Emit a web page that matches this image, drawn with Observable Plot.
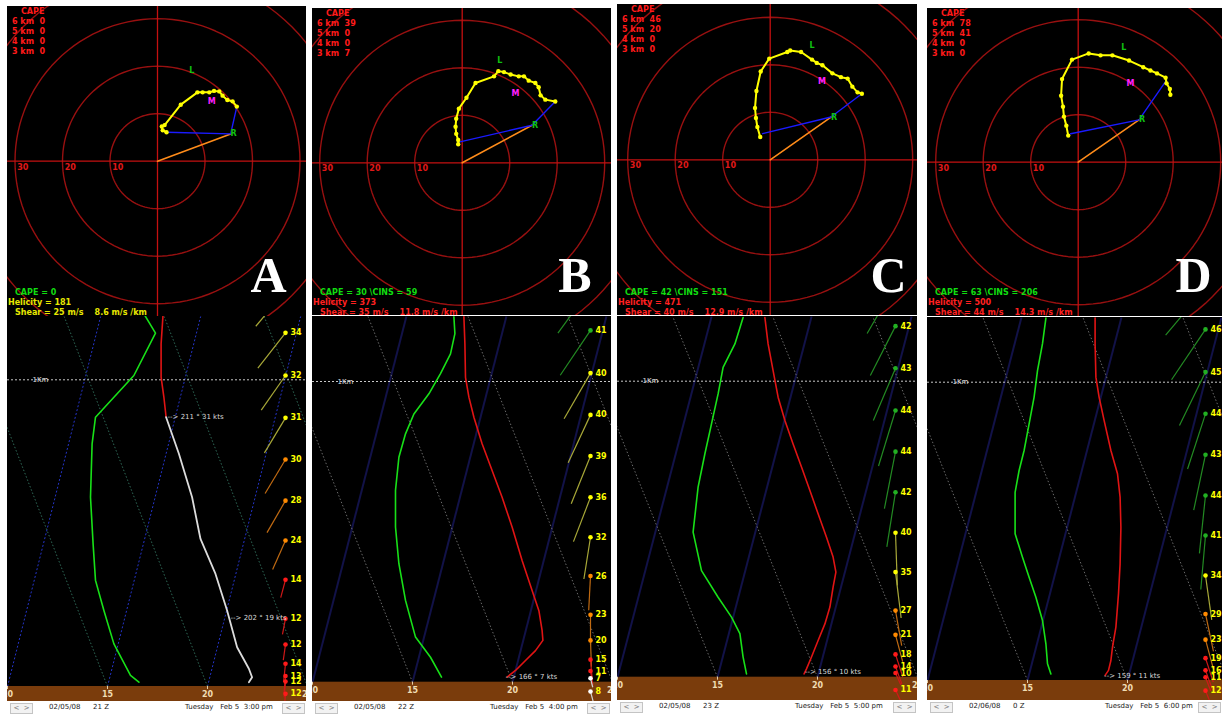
<!DOCTYPE html>
<html><head><meta charset="utf-8">
<script src="https://cdn.jsdelivr.net/npm/d3@7"></script>
<script src="https://cdn.jsdelivr.net/npm/@observablehq/plot@0.6"></script>
<style>
html,body{margin:0;padding:0;background:#fff;}
#root{position:relative;width:1226px;height:715px;overflow:hidden;background:#fff;}
.box{position:absolute;overflow:hidden;background:#000;}
.box svg{display:block;max-width:none;}
.status{position:absolute;background:#fff;font-family:"DejaVu Sans",sans-serif;font-size:7px;color:#222;}
.status span{position:absolute;top:2px;white-space:pre;line-height:9px;}
.status .btn{top:2px;height:9px;width:21px;border:1px solid #c4c4c4;background:#f2f2f2;color:#777;text-align:center;font-size:7px;line-height:9px;}
</style></head>
<body><div id="root"></div>
<script>
// ---------------- DATA ----------------
const panelLetters = ["A", "B", "C", "D"];
const capeLevels = ["6 km", "5 km", "4 km", "3 km"];
const capeByLevel = [[0, 0, 0, 0], [39, 0, 0, 7], [46, 20, 0, 0], [78, 41, 0, 0]];
const surfaceCape = [0, 30, 42, 63];
const cins = [null, 59, 151, 206];
const helicity = [181, 373, 471, 500];
const shearMs = [25, 35, 40, 44];
const shearRate = ["8.6", "11.8", "12.9", "14.3"];
const dates = ["02/05/08", "02/05/08", "02/05/08", "02/06/08"];
const zulu = ["21 Z", "22 Z", "23 Z", "0 Z"];
const localTimes = ["Tuesday   Feb 5  3:00 pm", "Tuesday   Feb 5  4:00 pm", "Tuesday   Feb 5  5:00 pm", "Tuesday   Feb 5  6:00 pm"];

// hodograph wind (u, v) in m/s, surface first
const hodoA = [[1.9,6.1],[1.1,6.5],[0.9,7.3],[1.5,7.6],[4.9,11.9],[8.4,14.5],[9.5,14.5],[10.9,14.5],[11.9,14.8],[13.0,14.7],[13.7,13.8],[14.7,12.9],[15.8,12.6],[16.7,11.5]];
const hodoB = [[-0.84,3.9],[-0.84,4.8],[-1.26,6.1],[-1.4,7.6],[-1.26,9.3],[-0.7,11.4],[0.9,13.7],[2.8,16.8],[6.7,18.2],[7.6,19.3],[8.8,19.1],[10.2,18.6],[11.9,18.2],[13.0,18.2],[14.0,17.3],[15.4,16.8],[16.1,15.9],[16.5,14.2],[17.5,13.3],[19.6,12.9]];
const hodoC = [[-2.1,4.8],[-2.7,6.9],[-3.0,8.8],[-3.2,10.9],[-2.9,14.5],[-2.0,18.6],[-0.2,21.3],[3.6,22.7],[4.2,23.0],[6.5,22.7],[8.8,21.1],[9.8,20.4],[11.0,19.9],[13.1,18.2],[14.9,17.4],[16.3,17.1],[17.3,15.4],[18.4,14.2],[19.3,13.9]];
const hodoD = [[-2.1,5.6],[-2.5,7.7],[-3.0,9.6],[-3.2,11.7],[-3.6,14.0],[-3.4,17.5],[-1.3,21.6],[2.2,22.9],[4.7,22.5],[7.2,22.5],[10.7,21.4],[13.7,20.0],[15.2,19.3],[16.6,18.7],[18.4,17.8],[18.6,16.6],[19.3,15.4],[19.4,14.2]];
const stormRight = [[15.4,5.75],[14.7,7.9],[12.8,9.0],[12.8,8.9]];
const stormLeft = [[7.2,19.1],[7.9,21.5],[8.8,24.1],[9.6,24.1]];
const meanWind = [[11.4,12.6],[11.2,14.7],[10.9,16.5],[11.0,16.6]];
const blueTop = [[16.7,11.5],[19.6,12.9],[19.3,13.9],[18.6,17.3]];
const blueLow = [[1.9,6.1],[-0.7,4.35],[-1.6,5.5],[-1.6,6.0]];
const ringSpeeds = [10, 20, 30, 40];
const ringLabels = [30, 20, 10];

// soundings: [x-axis °C, height m]
const tempRedA = [[17.78,1215],[17.68,1117],[17.68,1009],[17.82,943],[17.93,878]];
const tempWhiteA = [[17.93,878],[18.57,759],[19.23,617],[19.65,481],[20.40,367],[20.98,248],[21.48,128],[22.07,58],[22.23,30],[22.07,14]];
const dewA = [[16.82,1215],[17.40,1152],[16.32,1014],[15.32,943],[14.40,878],[14.23,791],[14.15,617],[14.28,465],[14.40,346],[14.82,248],[15.32,139],[16.15,36],[16.57,14]];
const tempB = [[17.57,1215],[17.62,1125],[17.65,1014],[17.82,948],[18.07,881],[18.48,793],[18.98,704],[19.48,615],[19.98,516],[20.48,405],[20.98,305],[21.32,238],[21.48,172],[21.52,139],[21.15,105],[20.65,72],[20.15,39],[19.73,17]];
const dewB = [[17.07,1215],[17.12,1159],[16.90,1092],[16.40,1026],[15.82,959],[15.07,892],[14.65,826],[14.32,748],[14.15,638],[14.15,516],[14.32,394],[14.65,272],[15.15,150],[15.90,83],[16.45,17]];
const tempC = [[17.37,1215],[17.53,1126],[17.78,1036],[18.03,946],[18.37,867],[18.78,788],[19.20,710],[19.62,631],[20.03,552],[20.45,473],[20.78,406],[20.92,355],[20.78,304],[20.62,237],[20.37,180],[20.03,124],[19.70,68],[19.45,28],[19.33,11]];
const dewC = [[16.28,1215],[15.87,1126],[15.28,1047],[15.03,957],[14.70,856],[14.37,755],[14.03,642],[13.78,490],[14.20,360],[15.03,270],[15.70,203],[16.12,147],[16.28,68],[16.45,11]];
const tempD = [[18.38,1215],[18.38,1129],[18.42,1017],[18.58,950],[18.83,872],[19.17,771],[19.50,693],[19.63,615],[19.67,514],[19.63,391],[19.55,291],[19.42,179],[19.25,112],[19.17,67],[19.05,34],[18.88,17]];
const dewD = [[15.92,1215],[15.75,1129],[15.50,1039],[15.33,950],[15.08,860],[14.83,771],[14.58,704],[14.38,631],[14.38,492],[14.75,413],[15.08,346],[15.42,279],[15.75,201],[15.92,123],[16.0,56],[16.17,22]];

// winds: [height m, speed kt, direction deg]
const windA = [[1290,35,220],[1153,34,218],[1014,32,215],[876,31,211],[740,30,211],[606,28,210],[476,24,204],[348,14,195],[221,12,191],[137,12,188],[74,14,186],[34,13,185],[16,12,185],[-24,12,185]];
const windB = [[1310,42,216],[1170,41,214],[1028,40,210],[889,40,205],[752,39,202],[615,36,201],[482,32,189],[353,26,183],[224,23,180],[139,20,178],[75,15,175],[37,11,170],[13,7,166],[-31,8,165]];
const windC = [[1327,43,210],[1186,42,207],[1044,43,203],[901,44,197],[762,44,191],[625,42,189],[488,40,178],[355,35,173],[225,27,170],[143,21,165],[77,18,162],[36,14,160],[14,10,156],[-43,11,155]];
const windD = [[1317,47,220],[1177,46,214],[1034,45,206],[894,44,198],[757,43,192],[620,44,186],[486,41,185],[352,34,172],[223,29,168],[137,23,165],[75,19,162],[34,16,160],[11,11,159],[-34,12,158]];
const windNotes = [
  [[18.0,878,"--> 211 ° 31 kts"],[21.15,224,"--> 202 ° 19 kts"]],
  [[19.65,17,"--> 166 ° 7 kts"]],
  [[19.37,17,"--> 156 ° 10 kts"]],
  [[18.83,15,"--> 159 ° 11 kts"]]
];
const isotherms = [5, 10, 15, 20, 25];
const adiabats = [15, 20, 25, 30, 35];
const bandTicks = [10, 15, 20, 25];

// ---------------- LAYOUT ----------------
const panelLeft = [7, 312, 617, 927];
const panelWidth = [299, 299, 300, 295];
const hodoTop = [6, 8, 4, 8];
const hodoBottom = [316, 315, 315, 316];
const hodoCenter = [[157,160.7],[461.7,162.3],[769.7,159.3],[1077.7,161.7]];
const letterRight = [286, 591, 906, 1211];
const letterMid = 275;
const pxPerMs = 4.75;
const soundTop = [316, 316, 316, 317];
const soundBottom = [701, 701, 700, 700];
const groundY = [686, 681.7, 676.7, 680];
const kmY = [379.3, 381, 380.7, 381.7];
const pxPerDeg = 20, tMin = 10;
const skewPerKm = 3.86, adiabatPerKm = 5.94;
const windX = 23.9, pxPerKt = 1.32;
const FONT = "DejaVu Sans";

function dotColor(s){ return s > 40 ? "#22b022" : s > 30 ? "#ffff00" : s >= 20 ? "#ff8a00" : s >= 10 ? "#ff1a1a" : "#ffffff"; }
function stickColor(s){ return s > 40 ? "#238a23" : s > 30 ? "#a8a838" : s >= 20 ? "#c06a12" : s >= 10 ? "#d01818" : "#d0d0d0"; }

function ringPoints(r){
  const pts = [];
  for (let a = 0; a <= 360; a += 3) { const t = a * Math.PI / 180; pts.push({r, u: r * Math.cos(t), v: r * Math.sin(t)}); }
  return pts;
}

function hodograph(i, path) {
  const W = panelWidth[i], H = hodoBottom[i] - hodoTop[i];
  const cx = hodoCenter[i][0] - panelLeft[i], cy = hodoCenter[i][1] - hodoTop[i];
  const s = pxPerMs;
  const txt = (str, x, yLocal, fill, extra = {}) => Plot.text([str], {frameAnchor: "top-left", dx: x, dy: yLocal, text: d => d,
    fill, fontSize: 8, fontWeight: "bold", fontFamily: FONT, textAnchor: "start", lineAnchor: "middle", ...extra});
  const R = stormRight[i], L = stormLeft[i], M = meanWind[i];
  const lowerColor = i === 0 ? "#e8e800" : "#ff2020";
  const capeLine = "CAPE = " + surfaceCape[i] + (cins[i] != null ? " \\CINS = " + cins[i] : "");
  const marks = [
    Plot.line(ringSpeeds.flatMap(ringPoints), {x: "u", y: "v", z: "r", stroke: "#981010", strokeWidth: 1.4}),
    Plot.ruleX([0], {stroke: "#c41010", strokeWidth: 1.3}),
    Plot.ruleY([0], {stroke: "#c41010", strokeWidth: 1.3}),
    Plot.text(ringLabels, {x: d => -d + 0.45, y: () => 0, dy: 6, text: d => String(d), fill: "#e01818", fontSize: 8, fontWeight: "bold", fontFamily: FONT, textAnchor: "start"}),
    Plot.line([[0,0], R], {x: d => d[0], y: d => d[1], stroke: "#ff8c1a", strokeWidth: 1.6}),
    Plot.line([blueTop[i], R, blueLow[i]], {x: d => d[0], y: d => d[1], stroke: "#1a1aff", strokeWidth: 1.4}),
    Plot.line(path, {x: d => d[0], y: d => d[1], stroke: "#ffff00", strokeWidth: 2}),
    Plot.dot(path, {x: d => d[0], y: d => d[1], r: 2.2, fill: "#ffff00"}),
    Plot.text([L], {x: d => d[0], y: d => d[1], text: () => "L", fill: "#10c010", fontSize: 8, fontWeight: "bold", fontFamily: FONT}),
    Plot.text([M], {x: d => d[0], y: d => d[1], text: () => "M", fill: "#ff20ff", fontSize: 8, fontWeight: "bold", fontFamily: FONT}),
    Plot.text([R], {x: d => d[0], y: d => d[1], dx: 3, text: () => "R", fill: "#10c010", fontSize: 8, fontWeight: "bold", fontFamily: FONT}),
    txt("CAPE", 13.5, 5, "#ff1a1a"),
    ...capeLevels.map((lv, j) => txt(lv + "  " + capeByLevel[i][j], 4.5, 15 + 10 * j, "#ff1a1a")),
    txt(capeLine, 7.5, 292 - hodoTop[i], "#10dd10"),
    txt("Helicity = " + helicity[i], 0.5, 302 - hodoTop[i], lowerColor),
    txt("Shear = " + shearMs[i] + " m/s    " + shearRate[i] + " m/s /km", 7.5, 311.5 - hodoTop[i], lowerColor),
    Plot.text([panelLetters[i]], {frameAnchor: "top-left", dx: letterRight[i] - panelLeft[i], dy: letterMid - hodoTop[i], text: d => d,
      fill: "#ffffff", fontSize: 50, fontWeight: "bold", fontFamily: "Liberation Serif", textAnchor: "end", lineAnchor: "middle"})
  ];
  return Plot.plot({
    width: W, height: H, margin: 0,
    x: {domain: [-cx / s, (W - cx) / s], axis: null},
    y: {domain: [-(H - cy) / s, cy / s], axis: null},
    style: {background: "#000"},
    marks
  });
}

function sounding(i, redLine, whiteLine, dew, wind, notes) {
  const W = panelWidth[i], H = soundBottom[i] - soundTop[i];
  const k = (groundY[i] - kmY[i]) / 1000;
  const hTop = (groundY[i] - soundTop[i]) / k, hBot = (groundY[i] - soundBottom[i]) / k;
  const xMax = tMin + W / pxPerDeg;
  const rad = d => d[2] * Math.PI / 180;
  const inView = wind.filter(d => d[0] < hTop - 8 / k);
  const isoStyle = i === 0 ? {stroke: "#2434c8", strokeWidth: 1, strokeDasharray: "2,2"} : {stroke: "#121248", strokeWidth: 2};
  const adiStyle = i === 0 ? {stroke: "#2f6a58", strokeWidth: 1, strokeDasharray: "1.5,2"} : {stroke: "#6a6a6a", strokeWidth: 1, strokeDasharray: "1.5,2"};
  const marks = [
    Plot.rect([0], {x1: () => tMin - 1, x2: () => xMax + 1, y1: () => hBot - 50, y2: () => 0, fill: "#7a3c0c"}),
    Plot.link(isotherms, {x1: d => d, y1: () => 0, x2: d => d + skewPerKm * hTop / 1000, y2: () => hTop, ...isoStyle}),
    Plot.link(adiabats, {x1: d => d, y1: () => 0, x2: d => d - adiabatPerKm * hTop / 1000, y2: () => hTop, ...adiStyle}),
    Plot.ruleY([1000], {stroke: "#c8c8c8", strokeWidth: 1, strokeDasharray: "2,2"}),
    Plot.text(["1Km"], {x: () => 11.65, y: () => 1000, text: d => d, fill: "#e0e0e0", fontSize: 7, fontFamily: FONT}),
    Plot.line(dew, {x: d => d[0], y: d => d[1], stroke: "#18e018", strokeWidth: 1.6}),
    Plot.line(redLine, {x: d => d[0], y: d => d[1], stroke: "#e01414", strokeWidth: 1.6}),
    ...(whiteLine ? [Plot.line(whiteLine, {x: d => d[0], y: d => d[1], stroke: "#dcdcdc", strokeWidth: 1.8})] : []),
    Plot.link(wind, {x1: () => windX, y1: d => d[0],
      x2: d => windX + Math.sin(rad(d)) * d[1] * pxPerKt / pxPerDeg,
      y2: d => d[0] + Math.cos(rad(d)) * d[1] * pxPerKt / k,
      stroke: d => stickColor(d[1]), strokeWidth: 1.2}),
    Plot.dot(inView, {x: () => windX, y: d => d[0], r: 2.3, fill: d => dotColor(d[1])}),
    Plot.text(inView, {x: () => windX, y: d => d[0], dx: 5, text: d => String(d[1]), fill: "#ffff00", fontSize: 8, fontWeight: "bold", fontFamily: FONT, textAnchor: "start"}),
    Plot.text(notes, {x: d => d[0], y: d => d[1], text: d => d[2], fill: "#d8d8d8", fontSize: 7, fontFamily: FONT, textAnchor: "start"}),
    Plot.ruleX(bandTicks, {x: d => d, y1: () => 0, y2: () => -3 / k, stroke: "#e8d2a8"}),
    Plot.text(bandTicks, {x: d => d, y: () => -8 / k, text: d => String(d), fill: "#f0dcb4", fontSize: 8, fontWeight: "bold", fontFamily: FONT})
  ];
  return Plot.plot({
    width: W, height: H, margin: 0,
    x: {domain: [tMin, xMax], axis: null},
    y: {domain: [hBot, hTop], axis: null},
    color: {type: "identity"},
    style: {background: "#000"},
    marks
  });
}

// ---------------- RENDER ----------------
const root = document.getElementById("root");
function box(left, top, w, h, child) {
  const d = document.createElement("div");
  d.className = "box";
  Object.assign(d.style, {left: left + "px", top: top + "px", width: w + "px", height: h + "px"});
  d.appendChild(child);
  root.appendChild(d);
}
const hodos = [hodoA, hodoB, hodoC, hodoD];
const reds = [tempRedA, tempB, tempC, tempD];
const whites = [tempWhiteA, null, null, null];
const dews = [dewA, dewB, dewC, dewD];
const winds = [windA, windB, windC, windD];

for (let i = 0; i < 4; i++) {
  box(panelLeft[i], soundTop[i], panelWidth[i], soundBottom[i] - soundTop[i], sounding(i, reds[i], whites[i], dews[i], winds[i], windNotes[i]));
  box(panelLeft[i], hodoTop[i], panelWidth[i], hodoBottom[i] - hodoTop[i], hodograph(i, hodos[i]));
  const st = document.createElement("div");
  st.className = "status";
  Object.assign(st.style, {left: panelLeft[i] + "px", top: soundBottom[i] + "px", width: panelWidth[i] + "px", height: (715 - soundBottom[i]) + "px"});
  const items = [["<  >", 3, true], [dates[i], 42], [zulu[i], 86], [localTimes[i], 178], ["<  >", panelWidth[i] - 24, true]];
  for (const [t, x, isBtn] of items) {
    const sp = document.createElement("span");
    if (isBtn) sp.className = "btn";
    sp.textContent = t;
    sp.style.left = x + "px";
    st.appendChild(sp);
  }
  root.appendChild(st);
}
</script></body></html>
